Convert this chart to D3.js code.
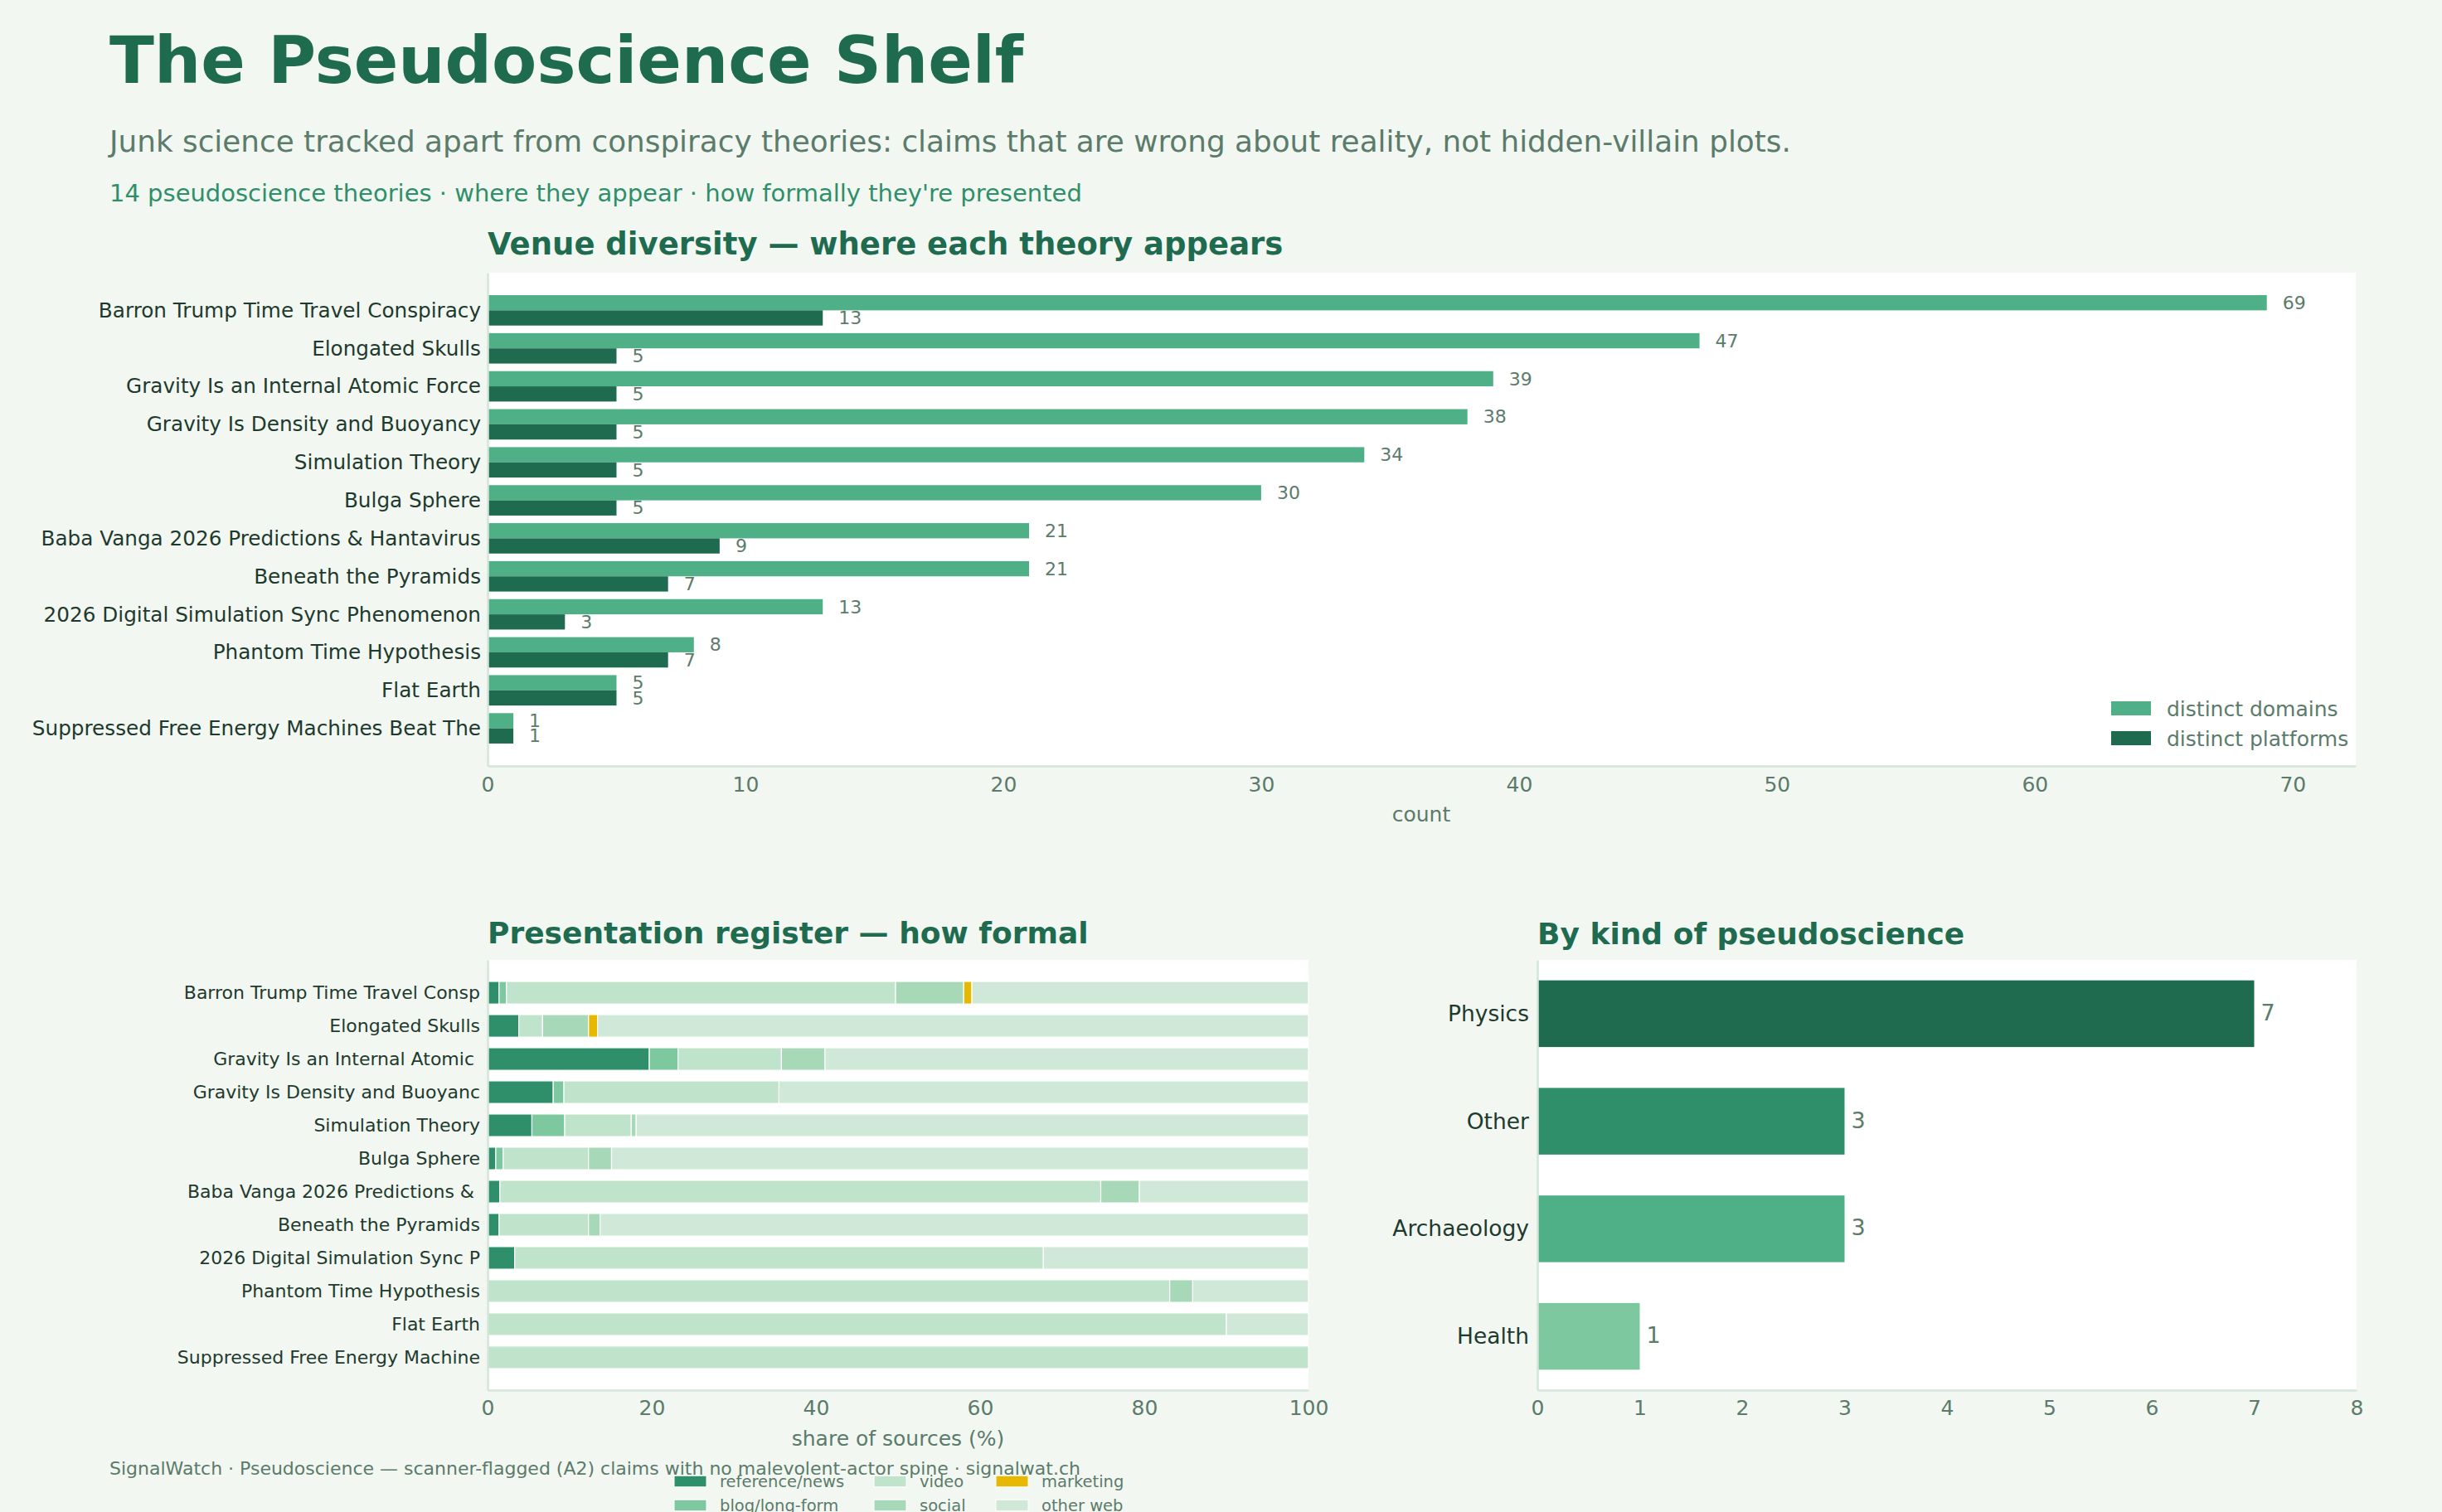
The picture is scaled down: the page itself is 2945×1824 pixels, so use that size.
<html>
	<head>
		<script src="https://cdnjs.cloudflare.com/ajax/libs/d3/7.8.5/d3.min.js"></script>
		<style>
            body { margin: 0; background: #f2f7f1; }
            svg { display: block; font-family: "DejaVu Sans", sans-serif; }
            text { white-space: pre; }
		</style>
	</head>
	<body>
		<script type='text/javascript'>
            // theory names as shown in the venue chart (already cut at 40 chars)
            var theories = [
                "Barron Trump Time Travel Conspiracy",
                "Elongated Skulls",
                "Gravity Is an Internal Atomic Force",
                "Gravity Is Density and Buoyancy",
                "Simulation Theory",
                "Bulga Sphere",
                "Baba Vanga 2026 Predictions & Hantavirus",
                "Beneath the Pyramids",
                "2026 Digital Simulation Sync Phenomenon",
                "Phantom Time Hypothesis",
                "Flat Earth",
                "Suppressed Free Energy Machines Beat The"
            ];
            var domains   = [69, 47, 39, 38, 34, 30, 21, 21, 13, 8, 5, 1];
            var platforms = [13, 5, 5, 5, 5, 5, 9, 7, 3, 7, 5, 1];
            var venueTicks = [0, 10, 20, 30, 40, 50, 60, 70];

            // presentation register, share of sources (%)
            var registerKeys = ["reference/news", "blog/long-form", "video", "social", "marketing", "other web"];
            var refNews   = [1.4, 3.8, 19.7, 8.0, 5.4, 1.0, 1.5, 1.4, 3.3, 0, 0, 0];
            var blogLong  = [0.9, 0, 3.5, 1.3, 4.0, 0.9, 0, 0, 0, 0, 0, 0];
            var video     = [47.4, 2.9, 12.6, 26.2, 8.1, 10.4, 73.2, 10.9, 64.4, 83.1, 90, 100];
            var social    = [8.3, 5.6, 5.3, 0, 0.6, 2.8, 4.7, 1.4, 0, 2.8, 0, 0];
            var marketing = [1.0, 1.1, 0, 0, 0, 0, 0, 0, 0, 0, 0, 0];
            var otherWeb  = [41.0, 86.6, 58.9, 64.5, 81.9, 84.9, 20.6, 86.3, 32.3, 14.1, 10, 0];
            var shareTicks = [0, 20, 40, 60, 80, 100];

            var kinds = ["Physics", "Other", "Archaeology", "Health"];
            var kindCounts = [7, 3, 3, 1];
            var kindTicks = [0, 1, 2, 3, 4, 5, 6, 7, 8];

            var dark = "#1f6b50", mid = "#2e8f6a", muted = "#5b7b6b", ink = "#1e3a2e", spine = "#d2e6d9";
            var registerColors = ["#2e8f6a", "#7ec8a0", "#c0e4cb", "#a7d8b8", "#e6b800", "#d0e8d7"];
            var kindColors = ["#1f6b50", "#2e8f6a", "#4faf86", "#7ec8a0"];

            var svg = d3.select("body").append("svg")
                .attr("width", 2945)
                .attr("height", 1824);

            svg.append("rect").attr("width", 2945).attr("height", 1824).attr("fill", "#f2f7f1");

            function label(x, y, txt, size, color, opts) {
                opts = opts || {};
                return svg.append("text")
                    .attr("x", x).attr("y", y)
                    .attr("font-size", size)
                    .attr("font-weight", opts.bold ? "bold" : "normal")
                    .attr("text-anchor", opts.anchor || "start")
                    .attr("fill", color)
                    .text(txt);
            }

            function styleAxis(g, size, color) {
                g.select(".domain").attr("stroke", spine).attr("stroke-width", 2.5);
                g.selectAll(".tick text")
                    .attr("font-size", size)
                    .attr("fill", color)
                    .attr("font-family", "DejaVu Sans");
                g.selectAll(".tick line").remove();
            }

            // headings
            label(132, 100, "The Pseudoscience Shelf", 79, dark, {bold: true});
            label(132, 183, "Junk science tracked apart from conspiracy theories: claims that are wrong about reality, not hidden-villain plots.", 35.8, muted);
            label(132, 243, "14 pseudoscience theories \u00b7 where they appear \u00b7 how formally they're presented", 29, mid);

            // ---- venue diversity ----
            var x1 = d3.scaleLinear().domain([0, d3.max(domains) * 1.05]).range([588, 2841]);
            var y1 = d3.scaleLinear().domain([-0.99, theories.length - 1 + 0.99]).range([329, 924]);

            label(588, 307, "Venue diversity \u2014 where each theory appears", 37, dark, {bold: true});
            svg.append("rect").attr("x", x1.range()[0]).attr("y", 329)
                .attr("width", x1.range()[1] - x1.range()[0]).attr("height", 924 - 329).attr("fill", "#fff");

            var gVenue = svg.append("g");
            gVenue.selectAll("rect.dom").data(domains).join("rect")
                .attr("x", x1(0))
                .attr("y", (d, i) => y1(i - 0.4))
                .attr("width", d => x1(d) - x1(0))
                .attr("height", (d, i) => y1(i) - y1(i - 0.4))
                .attr("fill", "#4faf86");
            gVenue.selectAll("rect.plat").data(platforms).join("rect")
                .attr("x", x1(0))
                .attr("y", (d, i) => y1(i))
                .attr("width", d => x1(d) - x1(0))
                .attr("height", (d, i) => y1(i + 0.4) - y1(i))
                .attr("fill", dark);
            gVenue.selectAll("text.dom").data(domains).join("text")
                .attr("x", d => x1(d) + 19)
                .attr("y", (d, i) => y1(i - 0.2))
                .attr("dy", "0.35em")
                .attr("font-size", 22).attr("fill", muted)
                .text(d => d);
            gVenue.selectAll("text.plat").data(platforms).join("text")
                .attr("x", d => x1(d) + 19)
                .attr("y", (d, i) => y1(i + 0.2))
                .attr("dy", "0.35em")
                .attr("font-size", 22).attr("fill", muted)
                .text(d => d);

            var ax1 = svg.append("g").attr("transform", "translate(0,924)")
                .call(d3.axisBottom(x1).tickValues(venueTicks).tickSize(0).tickSizeOuter(0).tickPadding(13));
            styleAxis(ax1, 25, muted);
            var ay1 = svg.append("g").attr("transform", "translate(588,0)")
                .call(d3.axisLeft(y1).tickValues(d3.range(theories.length)).tickFormat(i => theories[i])
                    .tickSize(0).tickSizeOuter(0).tickPadding(8));
            styleAxis(ay1, 24.7, ink);
            label(1714, 991, "count", 25, muted, {anchor: "middle"});

            var venueLegend = [["distinct domains", "#4faf86"], ["distinct platforms", dark]];
            venueLegend.forEach((d, i) => {
                var cy = 854.5 + i * 36;
                svg.append("rect").attr("x", 2546).attr("y", cy - 8.5).attr("width", 48).attr("height", 17).attr("fill", d[1]);
                label(2613, cy + 9, d[0], 25, muted);
            });

            // ---- presentation register ----
            var x2 = d3.scaleLinear().domain([0, 100]).range([588, 1578]);
            var y2 = d3.scaleLinear().domain([-0.99, theories.length - 1 + 0.99]).range([1158, 1677]);
            label(588, 1138, "Presentation register \u2014 how formal", 36, dark, {bold: true});
            svg.append("rect").attr("x", 588).attr("y", 1158).attr("width", 1578 - 588).attr("height", 1677 - 1158).attr("fill", "#fff");

            var regSeries = [refNews, blogLong, video, social, marketing, otherWeb];
            var rows = theories.map((t, i) => {
                var r = {};
                registerKeys.forEach((k, j) => r[k] = regSeries[j][i]);
                return r;
            });
            var stacked = d3.stack().keys(registerKeys)(rows);
            var gReg = svg.append("g");
            stacked.forEach((layer, j) => {
                gReg.selectAll(null).data(layer.map((d, i) => [d[0], d[1], i]).filter(d => d[1] - d[0] > 0)).join("rect")
                    .attr("x", d => x2(d[0]))
                    .attr("y", d => y2(d[2] - 0.34))
                    .attr("width", d => x2(d[1]) - x2(d[0]))
                    .attr("height", y2(0.34) - y2(-0.34))
                    .attr("fill", registerColors[j])
                    .attr("stroke", "#fff")
                    .attr("stroke-width", 1.2);
            });
            var ax2 = svg.append("g").attr("transform", "translate(0,1677)")
                .call(d3.axisBottom(x2).tickValues(shareTicks).tickSize(0).tickSizeOuter(0).tickPadding(12));
            styleAxis(ax2, 25, muted);
            var ay2 = svg.append("g").attr("transform", "translate(588,0)")
                .call(d3.axisLeft(y2).tickValues(d3.range(theories.length)).tickFormat(i => theories[i].slice(0, 30))
                    .tickSize(0).tickSizeOuter(0).tickPadding(9));
            styleAxis(ay2, 22, ink);
            label(1083, 1744, "share of sources (%)", 25, muted, {anchor: "middle"});

            label(132, 1779, "SignalWatch \u00b7 Pseudoscience \u2014 scanner-flagged (A2) claims with no malevolent-actor spine \u00b7 signalwat.ch", 22, muted);

            var legCols = [813, 1054, 1201];
            registerKeys.forEach((k, j) => {
                var col = Math.floor(j / 2), row = j % 2;
                var cy = 1787 + row * 29;
                svg.append("rect").attr("x", legCols[col]).attr("y", cy - 6.8).attr("width", 39).attr("height", 13.6)
                    .attr("fill", registerColors[j]).attr("stroke", "#fff").attr("stroke-width", 1);
                label(legCols[col] + 55, cy + 7, k, 19.5, muted);
            });

            // ---- by kind ----
            var x3 = d3.scaleLinear().domain([0, 8]).range([1854, 2842]);
            var y3 = d3.scaleLinear().domain([-0.5, kinds.length - 0.5]).range([1158, 1677]);
            label(1854, 1139, "By kind of pseudoscience", 36, dark, {bold: true});
            svg.append("rect").attr("x", 1854).attr("y", 1158).attr("width", 2842 - 1854).attr("height", 1677 - 1158).attr("fill", "#fff");

            var gKind = svg.append("g");
            gKind.selectAll("rect").data(kindCounts).join("rect")
                .attr("x", x3(0))
                .attr("y", (d, i) => y3(i - 0.31))
                .attr("width", d => x3(d) - x3(0))
                .attr("height", y3(0.31) - y3(-0.31))
                .attr("fill", (d, i) => kindColors[i]);
            gKind.selectAll("text").data(kindCounts).join("text")
                .attr("x", d => x3(d) + 8)
                .attr("y", (d, i) => y3(i))
                .attr("dy", "0.3em")
                .attr("font-size", 27).attr("fill", muted)
                .text(d => d);
            var ax3 = svg.append("g").attr("transform", "translate(0,1677)")
                .call(d3.axisBottom(x3).tickValues(kindTicks).tickSize(0).tickSizeOuter(0).tickPadding(12));
            styleAxis(ax3, 25, muted);
            var ay3 = svg.append("g").attr("transform", "translate(1854,0)")
                .call(d3.axisLeft(y3).tickValues(d3.range(kinds.length)).tickFormat(i => kinds[i])
                    .tickSize(0).tickSizeOuter(0).tickPadding(10));
            styleAxis(ay3, 26.5, ink);
		</script>
	</body>
</html>
